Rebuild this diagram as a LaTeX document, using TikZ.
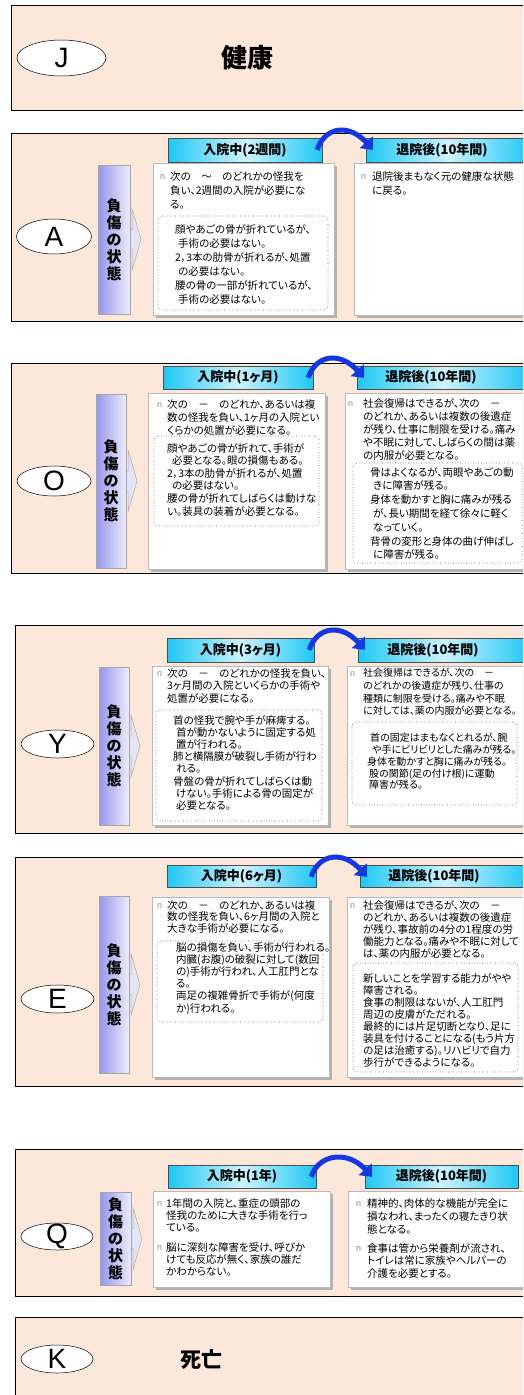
\documentclass[tikz,border=0pt]{standalone}
\usepackage{fontspec}
\setmainfont{Liberation Sans}
\newfontfamily\jp[RawFeature=+palt]{Noto Sans CJK JP}
\usetikzlibrary{shapes.geometric,fit,calc,shadows,arrows.meta}
\definecolor{peach}{RGB}{252,232,218}
\definecolor{barL}{RGB}{150,150,235}
\definecolor{barR}{RGB}{236,236,252}
\definecolor{lav}{RGB}{228,228,246}
\definecolor{cyD}{RGB}{30,200,245}
\definecolor{cyL}{RGB}{205,243,255}
\definecolor{arrB}{RGB}{20,55,225}
\definecolor{bulg}{RGB}{140,140,140}
\newcommand{\jpf}[2]{\jp\fontsize{#1}{#2}\selectfont}
\newcommand{\ind}[1]{\hspace*{#1pt}}
\newcommand{\barrow}[1]{\draw[barr] ($(#1)+(-4,-10)$) -- ($(#1)+(2,-10)$) -- ($(#1)+(2,-31)$) -- ($(#1)+(11,0)$) -- ($(#1)+(2,31)$) -- ($(#1)+(2,10)$) -- ($(#1)+(-4,10)$) -- cycle;}
\newcommand{\carr}[2]{\draw[carrow] ($(#1.north east)+(-5,12)$) .. controls ($(#1.north east)+(3,-12)$) and ($(#2.north west)+(-16,-14)$) .. ($(#2.north west)+(7,12)$);}
\begin{document}
\begin{tikzpicture}[x=1pt,y=-1pt,
  panel/.style={draw=black,line width=0.8pt,fill=peach,inner sep=0pt},
  lett/.style={ellipse,draw=black,line width=0.5pt,fill=white,inner sep=0pt},
  letx/.style={inner sep=0pt,font=\fontsize{28}{28}\selectfont},
  barbox/.style={draw=gray!70,line width=0.5pt,left color=barL,right color=barR,inner sep=0pt},
  bartx/.style={inner sep=0pt,align=center,font=\jp\bfseries\fontsize{15}{17}\selectfont},
  barr/.style={draw=gray!65,line width=0.5pt,fill=lav},
  hdr/.style={draw=gray!60!black,line width=0.4pt,left color=cyD,right color=cyD,middle color=cyL,inner sep=0pt},
  hdrtx/.style={inner sep=0pt,font=\jp\bfseries\fontsize{13}{13}\selectfont},
  cbox/.style={draw=gray!55,line width=0.5pt,fill=white,inner sep=0pt,drop shadow={shadow xshift=3pt,shadow yshift=-3pt,fill=gray!60,opacity=1}},
  dbox/.style={draw=gray!70!black,dotted,line width=0.6pt,rounded corners=4pt,fill=white,inner sep=0pt},
  tx/.style={inner sep=0pt,align=left,anchor=north west},
  bul/.style={inner sep=0pt,anchor=west,text=bulg,font=\fontsize{9}{9}\selectfont},
  carrow/.style={draw=arrB,line width=5pt,-{Triangle[length=10pt,width=17pt]}},
]
\useasboundingbox (0,0) rectangle (523,1395);
\clip (0,0) rectangle (523,1395);
\fill[white] (0,0) rectangle (523,1395);

% ---------------- J
\node[panel,fit={(11,5) (560,110)}] (pJ) {};
\node[lett,minimum width=89pt,minimum height=36pt] (eJ) at (61.5,58) {};
\node[letx] (lJ) at (eJ) {J};
\node[inner sep=0pt,font=\jp\bfseries\fontsize{26}{26}\selectfont] (tJ) at (247,58) {健康};

% ---------------- A
\node[panel,fit={(11,133) (560,321)}] (pA) {};
\node[lett,minimum width=75pt,minimum height=35pt] (eA) at (54,236.5) {};
\node[letx] (lA) at (eA) {A};
\coordinate (kA) at (130,239.5);
\barrow{kA}
\node[barbox,fit={(98,165) (130,314)}] (barA) {};
\node[bartx] (vA) at (barA) {負\\傷\\の\\状\\態};
\node[cbox,fit={(153,163) (334,315)}] (bAL) {};
\node[cbox,fit={(354,163) (560,315)}] (bAR) {};
\node[dbox,fit={(158,216) (328,310)}] (dAL) {};
\node[hdr,fit={(168,138) (322,162)}] (hAL) {};
\node[hdrtx] (hALt) at (hAL) {入院中(2週間)};
\node[hdr,fit={(366,138) (530,162)}] (hAR) {};
\node[hdrtx] (hARt) at (442,150) {退院後(10年間)};
\carr{hAL}{hAR}
\node[bul] (nA1) at (160,177) {n};
\node[tx,font={\jpf{10.5}{14}}] (tA1) at (170,171) {次の　～　のどれかの怪我を\\負い、2週間の入院が必要にな\\る。};
\node[tx,font={\jpf{10.5}{14}}] (tA2) at (175,224) {顔やあごの骨が折れているが、\\\ind{3}手術の必要はない。\\2，3本の肋骨が折れるが、処置\\\ind{3}の必要はない。\\腰の骨の一部が折れているが、\\\ind{3}手術の必要はない。};
\node[bul] (nA2) at (361,177) {n};
\node[tx,font={\jpf{10.5}{14}}] (tA3) at (372,171) {退院後まもなく元の健康な状態\\に戻る。};

% ---------------- O
\node[panel,fit={(11,363) (560,573)}] (pO) {};
\node[lett,minimum width=74pt,minimum height=30pt] (eO) at (54,481) {};
\node[letx] (lO) at (eO) {O};
\coordinate (kO) at (126,481);
\barrow{kO}
\node[barbox,fit={(96,394) (126,568)}] (barO) {};
\node[bartx] (vO) at (barO) {負\\傷\\の\\状\\態};
\node[cbox,fit={(148,393) (325,569)}] (bOL) {};
\node[cbox,fit={(345,393) (560,569)}] (bOR) {};
\node[dbox,fit={(154,436) (319,526)}] (dOL) {};
\node[dbox,fit={(353,463) (522,563)}] (dOR) {};
\node[hdr,fit={(163,366) (313,389)}] (hOL) {};
\node[hdrtx] (hOLt) at (hOL) {入院中(1ヶ月)};
\node[hdr,fit={(357,366) (530,389)}] (hOR) {};
\node[hdrtx] (hORt) at (431,377.5) {退院後(10年間)};
\carr{hOL}{hOR}
\node[bul] (nO1) at (157,405) {n};
\node[tx,font={\jpf{10.5}{13}}] (tO1) at (167,399) {次の　－　のどれか、あるいは複\\数の怪我を負い、1ヶ月の入院とい\\くらかの処置が必要になる。};
\node[tx,font={\jpf{10.5}{12.6}}] (tO2) at (167,443) {顔やあごの骨が折れて、手術が\\\ind{5}必要となる。眼の損傷もある。\\2，3本の肋骨が折れるが、処置\\\ind{5}の必要はない。\\腰の骨が折れてしばらくは動けな\\い。装具の装着が必要となる。};
\node[bul] (nO2) at (348,404) {n};
\node[tx,font={\jpf{10.5}{13}}] (tO3) at (363,398) {社会復帰はできるが、次の　－\\のどれか、あるいは複数の後遺症\\が残り、仕事に制限を受ける。痛み\\や不眠に対して、しばらくの間は薬\\の内服が必要となる。};
\node[tx,font={\jpf{10.5}{13.8}}] (tO4) at (370,467) {骨はよくなるが、両眼やあごの動\\\ind{3}きに障害が残る。\\身体を動かすと胸に痛みが残る\\\ind{3}が、長い期間を経て徐々に軽く\\\ind{3}なっていく。\\背骨の変形と身体の曲げ伸ばし\\\ind{3}に障害が残る。};

% ---------------- Y
\node[panel,fit={(15,625) (560,833)}] (pY) {};
\node[lett,minimum width=73pt,minimum height=28pt] (eY) at (57.5,744) {};
\node[letx] (lY) at (eY) {Y};
\coordinate (kY) at (129,746);
\barrow{kY}
\node[barbox,fit={(99,667) (129,825)}] (barY) {};
\node[bartx] (vY) at (barY) {負\\傷\\の\\状\\態};
\node[cbox,fit={(152,666) (328,825)}] (bYL) {};
\node[cbox,fit={(347,666) (560,825)}] (bYR) {};
\node[dbox,fit={(156,710) (322,821)}] (dYL) {};
\node[dbox,fit={(352,722) (517,805)}] (dYR) {};
\node[hdr,fit={(167,638) (314,662)}] (hYL) {};
\node[hdrtx] (hYLt) at (hYL) {入院中(3ヶ月)};
\node[hdr,fit={(358,638) (530,662)}] (hYR) {};
\node[hdrtx] (hYRt) at (433,650) {退院後(10年間)};
\carr{hYL}{hYR}
\node[bul] (nY1) at (157,674) {n};
\node[tx,font={\jpf{10.5}{12.5}}] (tY1) at (167,668) {次の　－　のどれかの怪我を負い、\\3ヶ月間の入院といくらかの手術や\\処置が必要になる。};
\node[tx,font={\jpf{10.5}{12.2}}] (tY2) at (173,715) {首の怪我で腕や手が麻痺する。\\\ind{3}首が動かないように固定する処\\\ind{3}置が行われる。\\肺と横隔膜が破裂し手術が行わ\\\ind{3}れる。\\骨盤の骨が折れてしばらくは動\\\ind{3}けない。手術による骨の固定が\\\ind{3}必要となる。};
\node[bul] (nY2) at (350,674) {n};
\node[tx,font={\jpf{10}{12.7}}] (tY3) at (363,668) {社会復帰はできるが、次の　－\\のどれかの後遺症が残り、仕事の\\種類に制限を受ける。痛みや不眠\\に対しては、薬の内服が必要となる。};
\node[tx,font={\jpf{10}{11.8}}] (tY4) at (367,733) {\ind{3}首の固定はまもなくとれるが、腕\\\ind{5}や手にビリビリとした痛みが残る。\\身体を動かすと胸に痛みが残る。\\\ind{2}股の関節(足の付け根)に運動\\\ind{2}障害が残る。};

% ---------------- E
\node[panel,fit={(15,857) (560,1086)}] (pE) {};
\node[lett,minimum width=73pt,minimum height=28pt] (eE) at (57.5,999) {};
\node[letx] (lE) at (eE) {E};
\coordinate (kE) at (129,984.5);
\barrow{kE}
\node[barbox,fit={(99,896) (129,1073)}] (barE) {};
\node[bartx] (vE) at (barE) {負\\傷\\の\\状\\態};
\node[cbox,fit={(152,897) (329,1077)}] (bEL) {};
\node[cbox,fit={(347,897) (560,1077)}] (bER) {};
\node[dbox,fit={(157,941) (323,1022)}] (dEL) {};
\node[dbox,fit={(353,963) (518,1072)}] (dER) {};
\node[hdr,fit={(167,865) (316,887)}] (hEL) {};
\node[hdrtx] (hELt) at (hEL) {入院中(6ヶ月)};
\node[hdr,fit={(360,865) (530,887)}] (hER) {};
\node[hdrtx] (hERt) at (434,876) {退院後(10年間)};
\carr{hEL}{hER}
\node[bul] (nE1) at (157,906) {n};
\node[tx,font={\jpf{10.5}{11.8}}] (tE1) at (167,900) {次の　－　のどれか、あるいは複\\数の怪我を負い、6ヶ月間の入院と\\大きな手術が必要になる。};
\node[tx,font={\jpf{10.5}{12.2}}] (tE2) at (176,942) {脳の損傷を負い、手術が行われる。\\内臓(お腹)の破裂に対して(数回\\の)手術が行われ、人工肛門とな\\る。\\両足の複雑骨折で手術が(何度\\か)行われる。};
\node[bul] (nE2) at (350,906) {n};
\node[tx,font={\jpf{10.5}{12}}] (tE3) at (363,900) {社会復帰はできるが、次の　－\\のどれか、あるいは複数の後遺症\\が残り、事故前の4分の1程度の労\\働能力となる。痛みや不眠に対して\\は、薬の内服が必要となる。};
\node[tx,font={\jpf{10.5}{12}}] (tE4) at (363,973) {新しいことを学習する能力がやや\\障害される。\\食事の制限はないが、人工肛門\\周辺の皮膚がただれる。\\最終的には片足切断となり、足に\\装具を付けることになる(もう片方\\の足は治癒する)。リハビリで自力\\歩行ができるようになる。};

% ---------------- Q
\node[panel,fit={(15,1149) (560,1296)}] (pQ) {};
\node[lett,minimum width=72pt,minimum height=27pt] (eQ) at (57,1236.5) {};
\node[letx] (lQ) at (eQ) {Q};
\coordinate (kQ) at (131,1238.5);
\barrow{kQ}
\node[barbox,fit={(100,1192) (131,1285)}] (barQ) {};
\node[bartx] (vQ) at (barQ) {負\\傷\\の\\状\\態};
\node[cbox,fit={(153,1191) (330,1287)}] (bQL) {};
\node[cbox,fit={(348,1191) (560,1287)}] (bQR) {};
\node[hdr,fit={(168,1165) (316,1188)}] (hQL) {};
\node[hdrtx] (hQLt) at (hQL) {入院中(1年)};
\node[hdr,fit={(365,1165) (518,1188)}] (hQR) {};
\node[hdrtx] (hQRt) at (hQR) {退院後(10年間)};
\carr{hQL}{hQR}
\node[bul] (nQ1) at (157,1204) {n};
\node[tx,font={\jpf{10.5}{12}}] (tQ1) at (166,1198) {1年間の入院と、重症の頭部の\\怪我のために大きな手術を行っ\\ている。};
\node[bul] (nQ2) at (157,1248) {n};
\node[tx,font={\jpf{10.5}{12}}] (tQ2) at (166,1242) {脳に深刻な障害を受け、呼びか\\けても反応が無く、家族の誰だ\\かわからない。};
\node[bul] (nQ3) at (356,1204) {n};
\node[tx,font={\jpf{10.5}{13}}] (tQ3) at (367,1198) {精神的、肉体的な機能が完全に\\損なわれ、まったくの寝たきり状\\態となる。};
\node[bul] (nQ4) at (356,1249) {n};
\node[tx,font={\jpf{10.5}{12.5}}] (tQ4) at (367,1243) {食事は管から栄養剤が流され、\\トイレは常に家族やヘルパーの\\介護を必要とする。};

% ---------------- K
\node[panel,fit={(15,1317) (560,1420)}] (pK) {};
\node[lett,minimum width=72pt,minimum height=28pt] (eK) at (57,1359) {};
\node[letx] (lK) at (eK) {K};
\node[inner sep=0pt,font=\jp\bfseries\fontsize{21}{21}\selectfont] (tK) at (201,1359) {死亡};
\end{tikzpicture}
\end{document}
